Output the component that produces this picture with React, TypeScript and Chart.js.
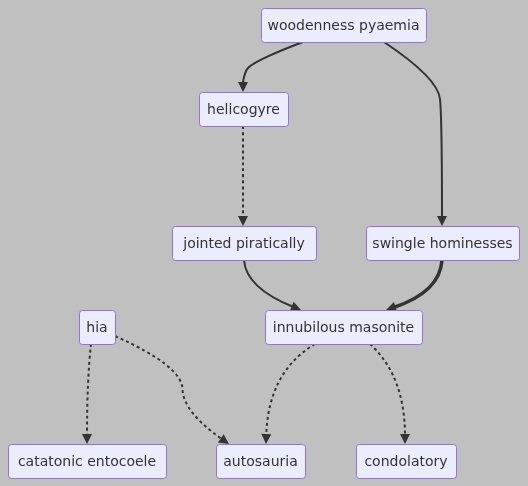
import React, { useEffect, useRef } from "react";
import { Chart, registerables } from "chart.js";
Chart.register(...registerables);

const nodeLabels = ["woodenness pyaemia","helicogyre","jointed piratically","swingle hominesses","hia","innubilous masonite","catatonic entocoele","autosauria","condolatory"];
const nodeX = [343.5,243.5,244,442.5,97,343.5,87,260.5,406];
const nodeY = [25,109,243,243,327,327,461,461,461];
const nodeW = [165,89,144,153,36,157,158,89,100];
const edgePaths: number[][][] = [
  [[303,42],[250,62],[243,78],[243,92]],
  [[384,42],[438,78],[442,120],[442,226]],
  [[243,126],[243,176],[243,226]],
  [[244,260],[246,288],[301,310]],
  [[442,260],[440,292],[386,310]],
  [[91,344],[87,380],[87,444]],
  [[115,336],[182,366],[183,412],[229,444]],
  [[315,344],[268,372],[266,444]],
  [[370,344],[405,376],[405,444]],
];
const edgeStyle = ["solid","solid","dot","solid","thick","dot","dot","dot","dot"];

export default function App() {
  const ref = useRef<HTMLCanvasElement>(null);
  useEffect(() => {
    const plugin = {
      id: "flow",
      beforeDraw(c: any) {
        const ctx = c.ctx; ctx.save(); ctx.fillStyle = "#c0c0c0"; ctx.fillRect(0,0,c.width,c.height); ctx.restore();
      },
      afterDatasetsDraw(c: any) {
        const ctx = c.ctx, xs = c.scales.x, ys = c.scales.y;
        const px = (p: number[]) => [xs.getPixelForValue(p[0]), ys.getPixelForValue(p[1])];
        edgePaths.forEach((path, i) => {
          const pts = path.map(px);
          ctx.save();
          ctx.strokeStyle = "#333"; ctx.fillStyle = "#333";
          ctx.lineWidth = edgeStyle[i] === "thick" ? 3.5 : 2;
          ctx.setLineDash(edgeStyle[i] === "dot" ? [3, 3] : []);
          const n = pts.length;
          const end = pts[n-1], prev = pts[n-2];
          const ang = Math.atan2(end[1]-prev[1], end[0]-prev[0]);
          const stop = [end[0]-Math.cos(ang)*8, end[1]-Math.sin(ang)*8];
          ctx.beginPath(); ctx.moveTo(pts[0][0], pts[0][1]);
          if (n === 2) ctx.lineTo(stop[0], stop[1]);
          else {
            for (let k = 1; k < n-2; k++) {
              const mx = (pts[k][0]+pts[k+1][0])/2, my = (pts[k][1]+pts[k+1][1])/2;
              ctx.quadraticCurveTo(pts[k][0], pts[k][1], mx, my);
            }
            ctx.quadraticCurveTo(pts[n-2][0], pts[n-2][1], stop[0], stop[1]);
          }
          ctx.stroke();
          ctx.setLineDash([]);
          ctx.beginPath();
          ctx.moveTo(end[0], end[1]);
          ctx.lineTo(end[0]-Math.cos(ang)*10+Math.sin(ang)*5, end[1]-Math.sin(ang)*10-Math.cos(ang)*5);
          ctx.lineTo(end[0]-Math.cos(ang)*10-Math.sin(ang)*5, end[1]-Math.sin(ang)*10+Math.cos(ang)*5);
          ctx.closePath(); ctx.fill();
          ctx.restore();
        });
        nodeLabels.forEach((t, i) => {
          const [cx, cy] = px([nodeX[i], nodeY[i]]);
          const w = nodeW[i], h = 34;
          ctx.save();
          ctx.fillStyle = "#ECECFF"; ctx.strokeStyle = "#9370DB"; ctx.lineWidth = 1;
          ctx.beginPath();
          (ctx as any).roundRect(cx-w/2+0.5, cy-h/2+0.5, w, h, 3);
          ctx.fill(); ctx.stroke();
          ctx.fillStyle = "#333"; ctx.font = "14px 'DejaVu Sans'";
          ctx.textAlign = "center"; ctx.textBaseline = "middle";
          ctx.fillText(t, cx, cy+1);
          ctx.restore();
        });
      },
    };
    const chart = new Chart(ref.current!, {
      type: "scatter",
      data: { datasets: [{ data: nodeX.map((x, i) => ({ x, y: nodeY[i] })), pointRadius: 0 }] },
      options: {
        animation: false, responsive: false, devicePixelRatio: 1,
        layout: { padding: 0 },
        plugins: { legend: { display: false }, tooltip: { enabled: false } },
        scales: {
          x: { type: "linear", min: 0, max: 528, display: false },
          y: { type: "linear", min: 0, max: 486, reverse: true, display: false },
        },
      },
      plugins: [plugin],
    });
    return () => chart.destroy();
  }, []);
  return (
    <div style={{ position: "fixed", left: 0, top: 0, width: 528, height: 486 }}>
      <canvas ref={ref} width={528} height={486} style={{ display: "block" }} />
    </div>
  );
}
